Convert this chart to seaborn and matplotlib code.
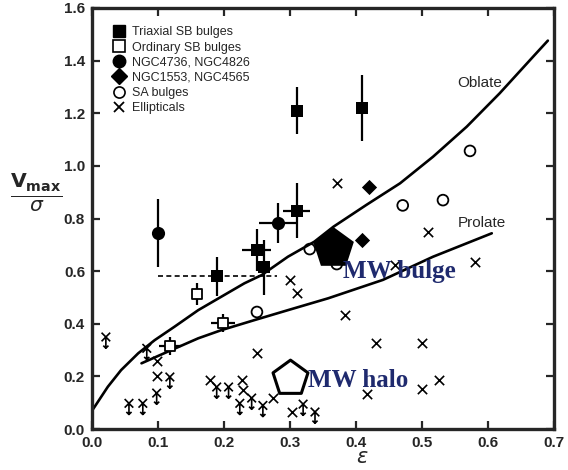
import numpy as np
import pandas as pd
import seaborn as sns
import matplotlib
matplotlib.use("Agg")
import matplotlib.pyplot as plt
from matplotlib.lines import Line2D
from matplotlib.path import Path

# Triaxial SB bulges (filled squares)
tri_x = [0.19, 0.25, 0.26, 0.31, 0.31, 0.41]
tri_y = [0.58, 0.68, 0.615, 0.83, 1.21, 1.22]
tri_xerr = [0.0, 0.022, 0.0, 0.02, 0.0, 0.0]
tri_yerr = [0.075, 0.08, 0.105, 0.105, 0.09, 0.125]
# dashed horizontal range of the first triaxial bulge
tri_dash_xerr = 0.09

# Ordinary SB bulges (open squares)
ord_x = [0.159, 0.199, 0.118]
ord_y = [0.513, 0.404, 0.316]
ord_xerr = [0.0, 0.018, 0.017]
ord_yerr = [0.043, 0.035, 0.035]

# NGC4736, NGC4826 (filled circles)
ngc_c_x = [0.10, 0.282]
ngc_c_y = [0.745, 0.783]
ngc_c_xerr = [0.0, 0.029]
ngc_c_yerr = [0.13, 0.075]

# NGC1553, NGC4565 (filled diamonds)
ngc_d_x = [0.42, 0.41]
ngc_d_y = [0.92, 0.72]

# SA bulges (open circles)
sa_x = [0.25, 0.33, 0.371, 0.471, 0.532, 0.573]
sa_y = [0.445, 0.684, 0.627, 0.85, 0.87, 1.057]

# Ellipticals
ell_x = [0.098, 0.098, 0.179, 0.227, 0.229, 0.25, 0.274, 0.303, 0.30, 0.31,
         0.371, 0.383, 0.417, 0.431, 0.459, 0.50, 0.50, 0.51, 0.526, 0.58]
ell_y = [0.258, 0.20, 0.186, 0.186, 0.15, 0.29, 0.118, 0.065, 0.567, 0.517,
         0.935, 0.434, 0.133, 0.327, 0.623, 0.327, 0.152, 0.75, 0.186, 0.635]
# Ellipticals, upper limits
lim_x = [0.021, 0.083, 0.118, 0.098, 0.056, 0.077, 0.189, 0.207, 0.224,
         0.242, 0.259, 0.32, 0.338]
lim_y = [0.35, 0.307, 0.198, 0.137, 0.098, 0.098, 0.16, 0.16, 0.098,
         0.118, 0.09, 0.095, 0.065]

# Milky Way
mw_bulge = (0.365, 0.69)
mw_halo = (0.30, 0.194)

# model curves
obl_x = [0.0, 0.004, 0.024, 0.044, 0.07, 0.095, 0.125, 0.161, 0.196, 0.231,
         0.257, 0.297, 0.337, 0.366, 0.416, 0.467, 0.517, 0.568, 0.618,
         0.669, 0.691]
obl_y = [0.07, 0.085, 0.161, 0.224, 0.288, 0.338, 0.389, 0.452, 0.503, 0.554,
         0.585, 0.655, 0.712, 0.769, 0.852, 0.934, 1.035, 1.149, 1.276,
         1.416, 1.476]
pro_x = [0.075, 0.12, 0.161, 0.196, 0.246, 0.297, 0.358, 0.441, 0.517, 0.606]
pro_y = [0.25, 0.30, 0.345, 0.376, 0.414, 0.452, 0.497, 0.567, 0.655, 0.744]

x_ticks = [0.0, 0.1, 0.2, 0.3, 0.4, 0.5, 0.6, 0.7]
y_ticks = [0.0, 0.2, 0.4, 0.6, 0.8, 1.0, 1.2, 1.4, 1.6]

sns.set_style("ticks")
plt.rcParams["font.family"] = ["Liberation Sans", "DejaVu Sans"]

fig = plt.figure(figsize=(5.68, 4.70), dpi=100)
ax = fig.add_axes([0.162, 0.087, 0.813, 0.896])

# curves
sns.lineplot(x=obl_x, y=obl_y, sort=False, color="black", lw=1.9, ax=ax)
sns.lineplot(x=pro_x, y=pro_y, sort=False, color="black", lw=1.9, ax=ax)

# error bars
ebkw = dict(fmt="none", ecolor="black", elinewidth=1.6, capsize=0, zorder=2)
ax.errorbar(tri_x, tri_y, xerr=tri_xerr, yerr=tri_yerr, **ebkw)
dash = ax.errorbar(tri_x[:1], tri_y[:1], xerr=tri_dash_xerr, fmt="none",
                   ecolor="black", elinewidth=1.2, capsize=0)
dash[2][0].set_linestyle((0, (3, 2)))
ax.errorbar(ord_x, ord_y, xerr=ord_xerr, yerr=ord_yerr, **ebkw)
ax.errorbar(ngc_c_x, ngc_c_y, xerr=ngc_c_xerr, yerr=ngc_c_yerr, **ebkw)

# upper-limit marker: cross with a downward arrow
M, L = Path.MOVETO, Path.LINETO
lim_marker = Path([(-1, 1), (1, -1), (-1, -1), (1, 1), (0, 0), (0, -2.6),
                   (-0.6, -2.0), (0, -2.6), (0.6, -2.0)],
                  [M, L, M, L, M, L, M, L, L])

sns.scatterplot(x=tri_x, y=tri_y, marker="s", s=75, color="black",
                edgecolor="black", linewidth=0, ax=ax, zorder=3)
sns.scatterplot(x=ord_x, y=ord_y, marker="s", s=55, facecolor="white",
                edgecolor="black", linewidth=1.3, ax=ax, zorder=3)
sns.scatterplot(x=ngc_c_x, y=ngc_c_y, marker="o", s=90, color="black",
                edgecolor="black", linewidth=0, ax=ax, zorder=3)
sns.scatterplot(x=ngc_d_x, y=ngc_d_y, marker="D", s=60, color="black",
                edgecolor="black", linewidth=0, ax=ax, zorder=3)
sns.scatterplot(x=sa_x, y=sa_y, marker="o", s=60, facecolor="none",
                edgecolor="black", linewidth=1.3, ax=ax, zorder=3)
sns.scatterplot(x=ell_x, y=ell_y, marker="x", s=45, color="black",
                linewidth=1.2, ax=ax, zorder=3)
sns.scatterplot(x=lim_x, y=lim_y, marker=lim_marker, s=260, facecolor="none",
                edgecolor="black", linewidth=1.2, ax=ax, zorder=3)

# Milky Way
sns.scatterplot(x=[mw_bulge[0]], y=[mw_bulge[1]], marker="p", s=950,
                color="black", linewidth=0, ax=ax, zorder=4)
sns.scatterplot(x=[mw_halo[0]], y=[mw_halo[1]], marker="p", s=700,
                facecolor="white", edgecolor="black", linewidth=2.2, ax=ax,
                zorder=4)
navy = "#1f2a6e"
ax.text(0.381, 0.60, "MW bulge", color=navy, fontsize=18, va="center",
        fontweight="bold", family=["Liberation Serif"], zorder=5)
ax.text(0.328, 0.186, "MW halo", color=navy, fontsize=18, va="center",
        fontweight="bold", family=["Liberation Serif"], zorder=5)

ax.text(0.588, 1.316, "Oblate", fontsize=11, ha="center", va="center")
ax.text(0.591, 0.783, "Prolate", fontsize=11, ha="center", va="center")

# legend
handles = [
    Line2D([], [], ls="", marker="s", ms=8, mfc="black", mec="black"),
    Line2D([], [], ls="", marker="s", ms=8, mfc="white", mec="black", mew=1.2),
    Line2D([], [], ls="", marker="o", ms=9, mfc="black", mec="black"),
    Line2D([], [], ls="", marker="D", ms=8, mfc="black", mec="black"),
    Line2D([], [], ls="", marker="o", ms=8, mfc="white", mec="black", mew=1.2),
    Line2D([], [], ls="", marker="x", ms=7, mec="black", mew=1.3),
]
labels = ["Triaxial SB bulges", "Ordinary SB bulges", "NGC4736, NGC4826",
          "NGC1553, NGC4565", "SA bulges", "Ellipticals"]
ax.legend(handles, labels, loc="upper left", bbox_to_anchor=(0.04, 0.962),
          frameon=False, fontsize=9, handlelength=1.0, handletextpad=0.5,
          labelspacing=0.25, borderpad=0.2, borderaxespad=0)

ax.set_xlim(0, 0.7)
ax.set_ylim(0, 1.6)
ax.set_xticks(x_ticks)
ax.set_yticks(y_ticks)
ax.set_xticklabels([f"{t:.1f}" for t in x_ticks])
ax.set_yticklabels([f"{t:.1f}" for t in y_ticks])
ax.tick_params(direction="in", length=6, width=1.6, top=True, right=True,
               labelsize=11, pad=5)
for lab in ax.get_xticklabels() + ax.get_yticklabels():
    lab.set_fontweight("bold")
for sp in ax.spines.values():
    sp.set_linewidth(2.4)
    sp.set_visible(True)

ax.set_xlabel(r"$\epsilon$", fontsize=15)
ax.xaxis.set_label_coords(0.585, -0.045)
ax.set_ylabel(r"$\frac{\mathbf{V_{max}}}{\sigma}$", fontsize=21, rotation=0,
              va="center", ha="center")
ax.yaxis.set_label_coords(-0.12, 0.56)

fig.savefig("out.png", dpi=100)
